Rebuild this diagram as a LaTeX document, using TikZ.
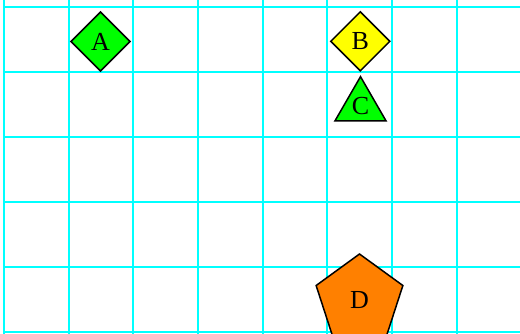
\documentclass[tikz,border=0pt]{standalone}
\usepackage{fontspec}
\setmainfont{Liberation Serif}
\usetikzlibrary{shapes.geometric}
\definecolor{gridcyan}{RGB}{0,255,255}
\definecolor{shgreen}{RGB}{0,255,0}
\definecolor{shyellow}{RGB}{255,255,0}
\definecolor{shorange}{RGB}{255,128,0}
\begin{document}
\begin{tikzpicture}[x=1pt,y=-1pt,
  gridline/.style={draw=gridcyan,line width=2pt},
  shapebox/.style={draw=black,line width=1.5pt,inner sep=0pt,outer sep=0pt,font=\fontsize{26}{31}\selectfont},
  diam/.style={shapebox,diamond,minimum width=59pt,minimum height=59pt},
  tri/.style={shapebox,regular polygon,regular polygon sides=3,minimum size=58.9pt},
  penta/.style={shapebox,regular polygon,regular polygon sides=5,minimum size=91.2pt}]
\useasboundingbox (0,0) rectangle (520,333);
\clip (0,0) rectangle (520,333);
\fill[white] (0,0) rectangle (520,333);
\foreach \i in {0,...,8} {
  \draw[gridline] ({4+64.67*\i},0) -- ({4+64.67*\i},340);
}
\foreach \j in {0,...,5} {
  \draw[gridline] (4,{7+64.9*\j}) -- (530,{7+64.9*\j});
}
\node[diam,fill=shgreen] (A) at (100.5,41.5) {A};
\node[diam,fill=shyellow] (B) at (360.3,41.3) {B};
\node[tri,fill=shgreen] (C) at (360.5,106.1) {C};
\node[penta,fill=shorange] (D) at (359.5,299.6) {D};
\end{tikzpicture}
\end{document}
